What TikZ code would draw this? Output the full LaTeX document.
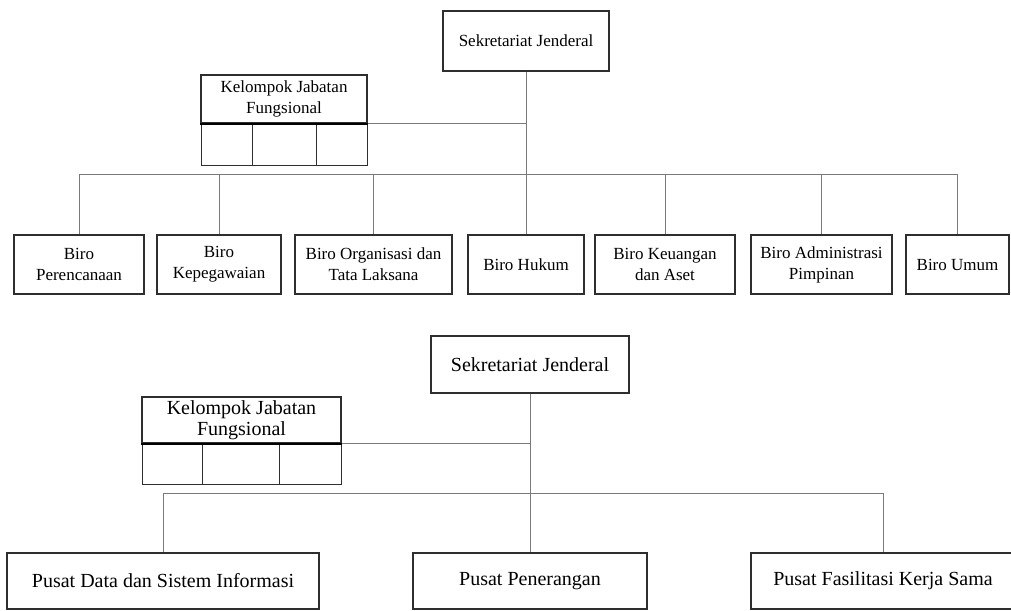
\documentclass[tikz,border=0pt]{standalone}
\usepackage{fontspec}
\setmainfont{Liberation Serif}
\usepackage{tikz}
\tikzset{every picture/.style={x=1pt,y=-1pt}}
\definecolor{boxline}{HTML}{2E2E2E}
\definecolor{linkgray}{HTML}{7A7A7A}
\tikzset{
  unit/.style={draw=boxline, line width=1.2pt, inner sep=2pt, align=center},
  slot/.style={draw=boxline, line width=1pt, inner sep=0pt},
  toptext/.style={font=\fontsize{17}{21}\selectfont},
  bottext/.style={font=\fontsize{20}{21}\selectfont},
  link/.style={draw=linkgray, line width=1pt},
}

\begin{document}
\begin{tikzpicture}
    \useasboundingbox (0,0) rectangle (1011,610);
    % upper chart
    \node[unit, toptext, minimum width=166pt, minimum height=60pt] (sekA) at (526,41) {Sekretariat Jenderal};
    \node[unit, toptext, minimum width=166pt, minimum height=48pt] (kelA) at (284,99) {Kelompok Jabatan\\Fungsional};
    \node[slot, minimum width=51pt, minimum height=42pt] (kelAa) at (226.5,144) {};
    \node[slot, minimum width=64pt, minimum height=42pt] (kelAb) at (284,144) {};
    \node[slot, minimum width=51pt, minimum height=42pt] (kelAc) at (341.5,144) {};
    \draw[line width=2pt] (kelA.south west) -- (kelA.south east);
    \coordinate (busA) at (526,174);

    \node[unit, toptext, minimum width=130pt, minimum height=59pt] (per) at (79,264.5) {Biro\\Perencanaan};
    \node[unit, toptext, minimum width=124pt, minimum height=59pt] (peg) at (219,264.5) {Biro\\Kepegawaian};
    \node[unit, toptext, minimum width=157pt, minimum height=59pt] (org) at (373.5,264.5) {Biro Organisasi dan\\Tata Laksana};
    \node[unit, toptext, minimum width=116pt, minimum height=59pt] (huk) at (526,264.5) {Biro Hukum};
    \node[unit, toptext, minimum width=140pt, minimum height=59pt] (keu) at (665,264.5) {Biro Keuangan\\dan Aset};
    \node[unit, toptext, minimum width=141pt, minimum height=59pt] (adm) at (821.5,264.5) {Biro Administrasi\\Pimpinan};
    \node[unit, toptext, minimum width=103pt, minimum height=59pt] (umum) at (957.5,264.5) {Biro Umum};

    \draw[link] (kelA.south east) -- (kelA.south east -| sekA.south);
    \draw[link] (sekA.south) -- (busA) -| (per.north);
    \draw[link] (busA) -| (peg.north);
    \draw[link] (busA) -| (org.north);
    \draw[link] (busA) -- (huk.north);
    \draw[link] (busA) -| (keu.north);
    \draw[link] (busA) -| (adm.north);
    \draw[link] (busA) -| (umum.north);

    % lower chart
    \node[unit, bottext, minimum width=198pt, minimum height=57pt] (sekB) at (530,364.5) {Sekretariat Jenderal};
    \node[unit, bottext, minimum width=199pt, minimum height=46pt] (kelB) at (241.5,420) {Kelompok Jabatan\\Fungsional};
    \node[slot, minimum width=60pt, minimum height=41pt] (kelBa) at (172,463.5) {};
    \node[slot, minimum width=77pt, minimum height=41pt] (kelBb) at (240.5,463.5) {};
    \node[slot, minimum width=62pt, minimum height=41pt] (kelBc) at (310,463.5) {};
    \draw[line width=2pt] (kelB.south west) -- (kelB.south east);
    \coordinate (busB) at (530,493);

    \node[unit, bottext, minimum width=312pt, minimum height=56pt] (pdsi) at (163,581) {Pusat Data dan Sistem Informasi};
    \node[unit, bottext, minimum width=234pt, minimum height=56pt] (pen) at (530,581) {Pusat Penerangan};
    \node[unit, bottext, minimum width=264pt, minimum height=56pt] (pfks) at (883,581) {Pusat Fasilitasi Kerja Sama};

    \draw[link] (kelB.south east) -- (kelB.south east -| sekB.south);
    \draw[link] (sekB.south) -- (busB) -| (pdsi.north);
    \draw[link] (busB) -- (pen.north);
    \draw[link] (busB) -| (pfks.north);
\end{tikzpicture}
\end{document}
